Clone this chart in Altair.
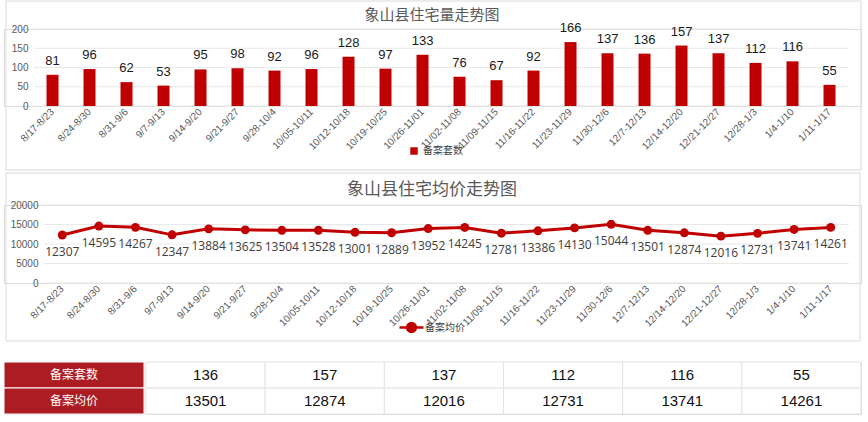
import altair as alt
import pandas as pd

weeks = ["8/17-8/23", "8/24-8/30", "8/31-9/6", "9/7-9/13", "9/14-9/20", "9/21-9/27",
         "9/28-10/4", "10/05-10/11", "10/12-10/18", "10/19-10/25", "10/26-11/01",
         "11/02-11/08", "11/09-11/15", "11/16-11/22", "11/23-11/29", "11/30-12/6",
         "12/7-12/13", "12/14-12/20", "12/21-12/27", "12/28-1/3", "1/4-1/10", "1/11-1/17"]
counts = [81, 96, 62, 53, 95, 98, 92, 96, 128, 97, 133, 76, 67, 92, 166, 137, 136, 157,
          137, 112, 116, 55]
prices = [12307, 14595, 14267, 12347, 13884, 13625, 13504, 13528, 13001, 12889, 13952,
          14245, 12781, 13386, 14130, 15044, 13501, 12874, 12016, 12731, 13741, 14261]
count_ticks = [0, 50, 100, 150, 200]
price_ticks = [0, 5000, 10000, 15000, 20000]
series_count = "备案套数"
series_price = "备案均价"
title_count = "象山县住宅量走势图"
title_price = "象山县住宅均价走势图"
table_rows = [series_count, series_price]
table_cols = weeks[-6:]
table_counts = counts[-6:]
table_prices = prices[-6:]

RED = "#C00000"
HDR = "#AD1C22"
GRAY = "#595959"
GRID = "#e8e8e8"
CJK = "Noto Sans CJK SC"

df = pd.DataFrame({"week": weeks, "count": counts, "price": prices,
                   "s1": series_count, "s2": series_price})


def x_enc(po, align):
    return alt.X("week:N", sort=weeks, title=None,
                 scale=alt.Scale(paddingInner=0, paddingOuter=po, align=align),
                 axis=alt.Axis(labelAngle=-45, labelFontSize=10, labelColor=GRAY,
                               labelFont="Liberation Sans", domain=False, ticks=False,
                               labelPadding=4, grid=False, labelOverlap=False))


def y_enc(field, ticks, dom, off):
    return alt.Y(field, title=None, scale=alt.Scale(domain=dom),
                 axis=alt.Axis(values=ticks, format="d", domain=False, ticks=False,
                               labelFontSize=10, labelColor=GRAY, labelFont="Liberation Sans",
                               labelPadding=6, grid=False, offset=off, labelOverlap=False))


def grid_layer(ticks, field, yenc):
    return alt.Chart(pd.DataFrame({field: ticks})).mark_rule(color=GRID, strokeWidth=1).encode(
        y=yenc,
        x=alt.XDatum(weeks[0], bandPosition=0),
        x2=alt.X2Datum(weeks[-1], bandPosition=1))


# ---------- Panel 1: bar chart ----------
xb = x_enc(0.581, 0.698)
yb = y_enc("count:Q", count_ticks, [0, 200], -30)
bars = alt.Chart(df).mark_bar(size=12, color=RED).encode(
    x=xb, y=yb,
    color=alt.Color("s1:N", scale=alt.Scale(range=[RED]),
                    legend=alt.Legend(title=None, orient="none", legendX=405, legendY=117,
                                      symbolType="square", symbolSize=55,
                                      labelFont=CJK, labelFontSize=10, labelColor="#404040")))
bar_text = alt.Chart(df).mark_text(baseline="bottom", dy=-7, fontSize=13,
                                   font="Liberation Sans", color="#1a1a1a").encode(
    x=xb, y=yb, text="count:Q")
head1 = alt.Chart(pd.DataFrame({"t": [title_count]})).mark_text(
    fontSize=15, color=GRAY, font=CJK, baseline="middle").encode(
    x=alt.value(428), y=alt.value(-14), text="t:N")
frame1 = alt.Chart(pd.DataFrame({"t": [title_count]})).mark_rect(
    fill="transparent", stroke="#d9d9d9", strokeWidth=1).encode(
    x=alt.value(2), x2=alt.value(857), y=alt.value(-28), y2=alt.value(141))
p1 = alt.layer(frame1, grid_layer(count_ticks, "count", yb), bars, bar_text, head1).properties(
    width=857, height=77)

# ---------- Panel 2: line chart ----------
xl = x_enc(0.7106, 0.769)
yl = y_enc("price:Q", price_ticks, [0, 20000], -40)
line_sym = "M-1.5,0L1.5,0M0.55,0A0.55,0.55,0,1,1,-0.55,0A0.55,0.55,0,1,1,0.55,0Z"
line = alt.Chart(df).mark_line(strokeWidth=3, color=RED,
                               point=alt.OverlayMarkDef(size=80, filled=True, color=RED)).encode(
    x=xl, y=yl,
    color=alt.Color("s2:N", scale=alt.Scale(range=[RED]),
                    legend=alt.Legend(title=None, orient="none", legendX=398, legendY=113,
                                      symbolType=line_sym, symbolSize=256,
                                      symbolFillColor=RED, symbolStrokeColor=RED,
                                      symbolStrokeWidth=2.5,
                                      labelFont=CJK, labelFontSize=10, labelColor="#404040")))
line_text = alt.Chart(df).mark_text(baseline="middle", dy=17, fontSize=12,
                                    font="Open Sans", color="#404040").encode(
    x=xl, y=yl, text="price:Q")
head2 = alt.Chart(pd.DataFrame({"t": [title_price]})).mark_text(
    fontSize=17, color=GRAY, font=CJK, baseline="middle").encode(
    x=alt.value(428), y=alt.value(-15), text="t:N")
frame2 = alt.Chart(pd.DataFrame({"t": [title_price]})).mark_rect(
    fill="transparent", stroke="#d9d9d9", strokeWidth=1).encode(
    x=alt.value(2), x2=alt.value(856), y=alt.value(-32), y2=alt.value(136))
p2 = alt.layer(frame2, grid_layer(price_ticks, "price", yl), line, line_text, head2).properties(
    width=857, height=78)

# ---------- Table ----------
hdr_df = pd.DataFrame({"row": table_rows})
tab_df = pd.DataFrame({
    "col": table_cols * 2,
    "row": [series_count] * 6 + [series_price] * 6,
    "val": [str(v) for v in table_counts] + [str(v) for v in table_prices],
})
ytab = alt.Y("row:N", sort=table_rows, axis=None,
             scale=alt.Scale(paddingInner=0, paddingOuter=0))
hdr_rect = alt.Chart(hdr_df).mark_rect(fill=HDR, stroke="white", strokeWidth=1).encode(y=ytab)
hdr_text = alt.Chart(hdr_df).mark_text(color="white", font=CJK, fontSize=12).encode(
    y=ytab, text="row:N")
hdr = alt.layer(hdr_rect, hdr_text).properties(width=140, height=52)

xtab = alt.X("col:N", sort=table_cols, axis=None,
             scale=alt.Scale(paddingInner=0, paddingOuter=0))
cell_rect = alt.Chart(tab_df).mark_rect(fill="white", stroke="#e3e3e3", strokeWidth=1).encode(
    x=xtab, y=ytab)
cell_text = alt.Chart(tab_df).mark_text(color="#111111", font="Liberation Sans",
                                        fontSize=15).encode(x=xtab, y=ytab, text="val:N")
cells = alt.layer(cell_rect, cell_text).properties(width=715, height=52)

table = alt.hconcat(hdr, cells, spacing=0)

charts = alt.concat(p1, p2, columns=1, spacing=1, align="none").resolve_scale(
    color="independent").resolve_legend(color="independent")
chart = alt.concat(charts, table, columns=1, spacing=19, align="none").resolve_scale(
    color="independent").properties(
    padding={"left": 3, "top": 0, "right": 0, "bottom": 0}
).configure_view(strokeWidth=0).configure(background="white")

chart.save("out.html", embed_options={"renderer": "svg", "actions": False})
